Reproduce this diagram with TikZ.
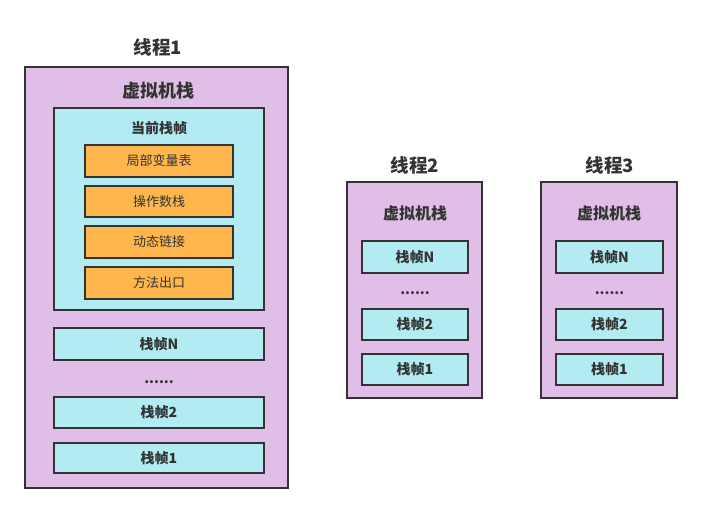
\documentclass[tikz,border=0pt]{standalone}
\usepackage{fontspec}
\setmainfont{Noto Sans CJK SC}
\definecolor{vmpurple}{HTML}{E1BEE7}
\definecolor{framecyan}{HTML}{B2EBF2}
\definecolor{itemorange}{HTML}{FFB74D}
\definecolor{edgegray}{HTML}{333333}
\definecolor{txtgray}{HTML}{333333}
\tikzset{
  box/.style={draw=edgegray,line width=1.8pt,inner sep=0pt,outer sep=0pt},
  vmbox/.style={box,fill=vmpurple},
  cyanbox/.style={box,fill=framecyan},
  orbox/.style={box,fill=itemorange},
  ttl/.style={text=txtgray,font=\fontsize{18.5}{21}\selectfont\bfseries},
  vml/.style={text=txtgray,font=\fontsize{16}{19}\selectfont\bfseries},
  cfl/.style={text=txtgray,font=\fontsize{14}{17}\selectfont\bfseries},
  orl/.style={text=txtgray,font=\fontsize{13}{16}\selectfont},
  dotl/.style={text=txtgray,anchor=base,font=\fontsize{14}{16}\selectfont\bfseries},
}
\begin{document}
\begin{tikzpicture}[x=1pt,y=-1pt]
\useasboundingbox (0,0) rectangle (701,514);
% Thread 1
\node[ttl] (t1) at (158,47) {线程1};
\draw[vmbox] (25,67) rectangle (288,488);
\node[vml,font=\fontsize{18}{21}\selectfont\bfseries] (vm1l) at (158,91) {虚拟机栈};
\draw[cyanbox] (54,108) rectangle (264,310);
\node[cfl] (cf) at (159,128) {当前栈帧};
\draw[orbox] (85,145) rectangle (233,177);
\node[orl] (o1) at (159,161) {局部变量表};
\draw[orbox] (85,186) rectangle (233,217);
\node[orl] (o2) at (159,201.5) {操作数栈};
\draw[orbox] (85,226) rectangle (233,258);
\node[orl] (o3) at (159,242) {动态链接};
\draw[orbox] (85,267) rectangle (233,299);
\node[orl] (o4) at (159,283) {方法出口};
\draw[cyanbox] (54,328) rectangle (264,360);
\node[cfl] (f1n) at (159,344) {栈帧N};
\node[dotl] (d1) at (159,383) {......};
\draw[cyanbox] (54,397) rectangle (264,428);
\node[cfl] (f12) at (159,412.5) {栈帧2};
\draw[cyanbox] (54,443) rectangle (264,473);
\node[cfl] (f11) at (159,458) {栈帧1};
% Thread 2
\node[ttl] (t2) at (415,165) {线程2};
\draw[vmbox] (347,182) rectangle (482,398);
\node[vml] (vm2l) at (415,213) {虚拟机栈};
\draw[cyanbox] (362,241) rectangle (468,273);
\node[cfl] (f2n) at (415,257) {栈帧N};
\node[dotl] (d2) at (415,294.5) {......};
\draw[cyanbox] (362,309) rectangle (468,340);
\node[cfl] (f22) at (415,324.5) {栈帧2};
\draw[cyanbox] (362,354) rectangle (468,385);
\node[cfl] (f21) at (415,369.5) {栈帧1};
% Thread 3
\node[ttl] (t3) at (610,165) {线程3};
\draw[vmbox] (541,182) rectangle (677,398);
\node[vml] (vm3l) at (609,213) {虚拟机栈};
\draw[cyanbox] (556,241) rectangle (663,273);
\node[cfl] (f3n) at (609.5,257) {栈帧N};
\node[dotl] (d3) at (609.5,294.5) {......};
\draw[cyanbox] (556,309) rectangle (663,340);
\node[cfl] (f32) at (609.5,324.5) {栈帧2};
\draw[cyanbox] (556,354) rectangle (663,385);
\node[cfl] (f31) at (609.5,369.5) {栈帧1};
\end{tikzpicture}
\end{document}
